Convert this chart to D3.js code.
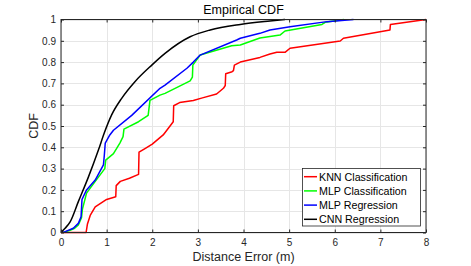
<!DOCTYPE html>
<html><head><meta charset="utf-8">
<script src="https://cdn.jsdelivr.net/npm/d3@7/dist/d3.min.js"></script>
<style>body{margin:0;background:#fff;} svg{display:block;font-family:"Liberation Sans",Arial,sans-serif;}</style>
</head><body>
<script>
const seriesNames = ["KNN Classification","MLP Classification","MLP Regression","CNN Regression"];
const seriesColors = ["#ff0000","#00ff00","#0000ff","#000000"];
const xTicks = [0,1,2,3,4,5,6,7,8];
const yTicks = [0,0.1,0.2,0.3,0.4,0.5,0.6,0.7,0.8,0.9,1];
const yTickLabels = ["0","0.1","0.2","0.3","0.4","0.5","0.6","0.7","0.8","0.9","1"];

const knn = [[0,0],[0.55,0],[0.58,0.04],[0.64,0.08],[0.75,0.12],[1.0,0.155],[1.2,0.168],[1.21,0.22],[1.3,0.24],[1.5,0.255],[1.7,0.273],[1.71,0.377],[1.85,0.395],[2.0,0.415],[2.24,0.458],[2.39,0.5],[2.46,0.52],[2.47,0.595],[2.6,0.61],[2.9,0.62],[3.1,0.632],[3.41,0.65],[3.56,0.677],[3.6,0.69],[3.61,0.745],[3.75,0.755],[3.78,0.76],[3.8,0.786],[3.93,0.8],[4.36,0.822],[4.58,0.838],[4.73,0.846],[4.91,0.846],[5.02,0.865],[6.12,0.899],[6.19,0.912],[7.21,0.951],[7.22,0.977],[8.0,1.0]];
const mlpC = [[0.05,0],[0.2,0.01],[0.3,0.02],[0.38,0.035],[0.45,0.07],[0.47,0.11],[0.56,0.185],[0.82,0.26],[0.96,0.3],[0.98,0.34],[1.15,0.37],[1.29,0.42],[1.36,0.45],[1.38,0.485],[1.7,0.52],[1.91,0.55],[1.95,0.62],[2.17,0.645],[2.28,0.653],[2.83,0.712],[2.88,0.73],[2.89,0.786],[3.05,0.833],[3.74,0.877],[3.93,0.88],[4.36,0.913],[4.8,0.927],[4.91,0.946],[5.72,0.977],[5.79,0.987],[6.2,1.0]];
const mlpR = [[0.03,0],[0.09,0.004],[0.27,0.02],[0.38,0.043],[0.44,0.074],[0.46,0.155],[0.56,0.2],[0.75,0.246],[0.93,0.317],[0.95,0.364],[0.97,0.42],[1.07,0.458],[1.15,0.48],[1.55,0.55],[2.17,0.677],[2.28,0.692],[2.76,0.771],[2.9,0.8],[3.05,0.833],[3.85,0.904],[3.93,0.912],[4.36,0.935],[4.58,0.951],[5.02,0.966],[5.83,0.99],[6.41,1.0]];
const cnn = [[0,0],[0.09,0.02],[0.2,0.05],[0.38,0.145],[0.6,0.26],[0.82,0.387],[0.95,0.468],[1.11,0.552],[1.33,0.63],[1.62,0.708],[1.99,0.786],[2.28,0.841],[2.83,0.919],[3.27,0.951],[3.93,0.977],[4.58,0.993],[4.91,1.0]];
const allSeries = [knn, mlpC, mlpR, cnn];

const W=471,H=266;
const m={l:61,r:426,t:19.5,b:232.5};
const svg=d3.select("body").append("svg").attr("width",W).attr("height",H);
const x=d3.scaleLinear().domain([0,8]).range([m.l,m.r]);
const y=d3.scaleLinear().domain([0,1]).range([m.b,m.t]);
const axisColor="#262626";

// grid
const g=svg.append("g");
g.selectAll(".gx").data(xTicks).enter().append("line")
 .attr("x1",d=>Math.round(x(d))+0.5).attr("x2",d=>Math.round(x(d))+0.5)
 .attr("y1",m.t).attr("y2",m.b).attr("stroke","#e6e6e6").attr("stroke-width",1);
g.selectAll(".gy").data(yTicks).enter().append("line")
 .attr("y1",d=>Math.round(y(d))+0.5).attr("y2",d=>Math.round(y(d))+0.5)
 .attr("x1",m.l).attr("x2",m.r).attr("stroke","#e6e6e6").attr("stroke-width",1);

// lines
const line=d3.line().x(d=>x(d[0])).y(d=>y(d[1]));
const smooth=d3.line().x(d=>x(d[0])).y(d=>y(d[1])).curve(d3.curveMonotoneX);
allSeries.forEach((s,i)=>{
  svg.append("path").datum(s).attr("d",i===3?smooth:line).attr("fill","none")
   .attr("stroke",seriesColors[i]).attr("stroke-width",1.5).attr("stroke-linejoin","round");
});

// axes
const fmtY=(d,i)=>yTickLabels[i];
const axB=d3.axisBottom(x).tickValues(xTicks).tickSize(-3).tickPadding(6).tickFormat(d3.format("d"));
const axL=d3.axisLeft(y).tickValues(yTicks).tickSize(-3).tickPadding(5).tickFormat(fmtY);
const axT=d3.axisTop(x).tickValues(xTicks).tickSize(-3).tickFormat("");
const axR=d3.axisRight(y).tickValues(yTicks).tickSize(-3).tickFormat("");
function style(sel){
  sel.selectAll("path").attr("stroke",axisColor);
  sel.selectAll("line").attr("stroke",axisColor);
  sel.selectAll("text").attr("fill",axisColor).style("font-size","10px").style("font-family","Liberation Sans, Arial, sans-serif");
}
svg.append("g").attr("transform",`translate(0,${m.b})`).call(axB).call(style);
svg.append("g").attr("transform",`translate(${m.l},0)`).call(axL).call(style);
svg.append("g").attr("transform",`translate(0,${m.t})`).call(axT).call(style);
svg.append("g").attr("transform",`translate(${m.r},0)`).call(axR).call(style);
svg.selectAll(".domain").attr("d",null);
svg.append("rect").attr("x",m.l).attr("y",m.t).attr("width",m.r-m.l).attr("height",m.b-m.t)
 .attr("fill","none").attr("stroke",axisColor).attr("stroke-width",1);

// titles
svg.append("text").attr("x",(m.l+m.r)/2).attr("y",14).attr("text-anchor","middle")
 .attr("fill","#000").style("font-size","12.5px").text("Empirical CDF");
svg.append("text").attr("x",(m.l+m.r)/2).attr("y",260.5).attr("text-anchor","middle")
 .attr("fill",axisColor).style("font-size","12.5px").text("Distance Error (m)");
svg.append("text").attr("transform",`translate(38,${(m.t+m.b)/2}) rotate(-90)`).attr("text-anchor","middle")
 .attr("fill",axisColor).style("font-size","12.5px").text("CDF");

// legend
const lg=svg.append("g");
lg.append("rect").attr("x",302.5).attr("y",168.5).attr("width",118).attr("height",57.5)
 .attr("fill","#fff").attr("stroke","#262626").attr("stroke-width",0.8);
seriesNames.forEach((n,i)=>{
  const cy=176.7+i*14.2;
  lg.append("line").attr("x1",304).attr("x2",317).attr("y1",cy).attr("y2",cy)
   .attr("stroke",seriesColors[i]).attr("stroke-width",1.5);
  lg.append("text").attr("x",319).attr("y",cy+3.8).attr("fill","#000")
   .style("font-size","10.7px").text(n);
});
</script>
</body></html>
